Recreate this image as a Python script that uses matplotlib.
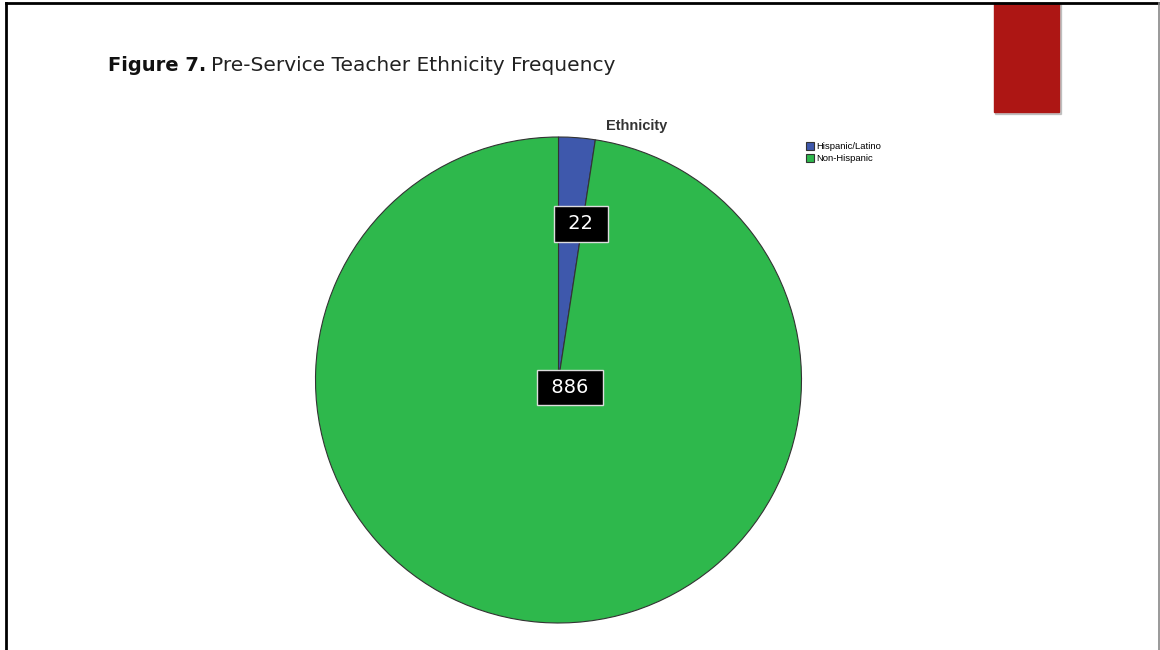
import numpy as np
import matplotlib
matplotlib.use("Agg")
from matplotlib import pyplot as plt
from matplotlib.patches import Rectangle
from matplotlib.lines import Line2D

# Data
categories = ["Hispanic/Latino", "Non-Hispanic"]
counts = [22, 886]
colors = ["#3e58ac", "#2eb84c"]

W, H = 1160, 650
fig = plt.figure(figsize=(W / 100, H / 100), dpi=100)

def fx(px):
    return px / W

def fy(py):
    return 1 - py / H

# Slide frame
fig.add_artist(Line2D([fx(6), fx(6)], [0, fy(3)], color="black", lw=2))
fig.add_artist(Line2D([fx(6), fx(1159)], [fy(3), fy(3)], color="black", lw=2))
fig.add_artist(Line2D([fx(1159), fx(1159)], [0, fy(3)], color="#888888", lw=1.2))

# Red decorative block with soft shadow
fig.add_artist(Rectangle((fx(995), fy(114)), fx(66), 110 / H, color="#999999",
                         alpha=0.5, transform=fig.transFigure))
fig.add_artist(Rectangle((fx(994), fy(112)), fx(65), 109 / H, color="#ad1614",
                         transform=fig.transFigure))

# Title
t1 = fig.text(fx(108), fy(71), "Figure 7.", fontsize=14, fontweight="bold",
              family="DejaVu Sans", color="#111111", va="baseline")
fig.canvas.draw()
bb = t1.get_window_extent()
fig.text(bb.x1 / W + fx(5), fy(71), "Pre-Service Teacher Ethnicity Frequency",
         fontsize=14.5, family="DejaVu Sans", color="#222222", va="baseline")

# Chart title
fig.text(fx(637), fy(126), "Ethnicity", fontsize=10.5, fontweight="bold",
         family="Liberation Sans", color="#333333", ha="center", va="center")

# Pie
cx, cy, r = 558.5, 380, 243
ax = fig.add_axes([fx(cx - r), fy(cy + r), 2 * r / W, 2 * r / H])
wedges, _ = ax.pie(counts, colors=colors, startangle=90, counterclock=False,
                   wedgeprops=dict(edgecolor="#333333", linewidth=0.8))
ax.set_xlim(-1, 1)
ax.set_ylim(-1, 1)
ax.set_aspect("equal")
ax.axis("off")

# Value labels
label_pos = [(0.093, 0.642), (0.048, -0.03)]
for (x, y), v in zip(label_pos, counts):
    ax.text(x, y, " %d " % v, ha="center", va="center", fontsize=14,
            family="DejaVu Sans", color="white",
            bbox=dict(boxstyle="square,pad=0.42", fc="black", ec="#dddddd", lw=1))

# Legend
lax = fig.add_axes([fx(802), fy(170), fx(120), 32 / H])
lax.axis("off")
lax.legend(wedges, categories, loc="upper left", frameon=False,
           handlelength=0.9, handleheight=0.9, handletextpad=0.25,
           labelspacing=0.35, borderaxespad=0,
           prop={"family": "Liberation Sans", "size": 6.8})

fig.savefig("out.png", dpi=100)
